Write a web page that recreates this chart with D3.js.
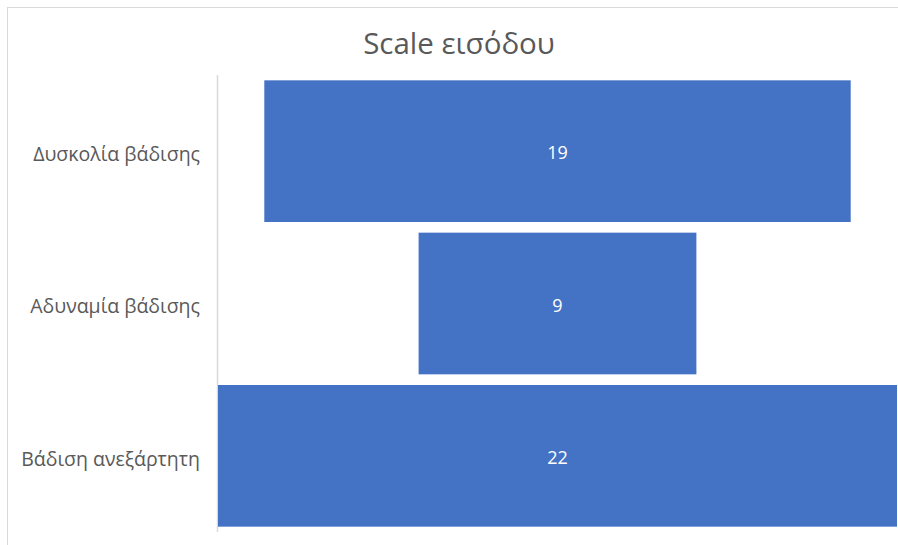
<!DOCTYPE html>
<html><head><meta charset="utf-8">
<script src="https://cdn.jsdelivr.net/npm/d3@7"></script>
<style>html,body{margin:0;padding:0;background:#fff;}svg{display:block;font-family:"Open Sans","Noto Sans",sans-serif;}</style>
</head><body>
<script>
const categories = ["Δυσκολία βάδισης", "Αδυναμία βάδισης", "Βάδιση ανεξάρτητη"];
const values = [19, 9, 22];
const title = "Scale εισόδου";

const W = 898, H = 545;
const svg = d3.select("body").append("svg").attr("width", W).attr("height", H);
svg.append("rect").attr("x", 7.5).attr("y", 7.5).attr("width", W + 10).attr("height", H + 10)
  .attr("fill", "#fff").attr("stroke", "#d9d9d9").attr("stroke-width", 1);

const x0 = 218, x1 = 897;
const maxV = d3.max(values);
const w = d3.scaleLinear().domain([0, maxV]).range([0, x1 - x0]);
const cx = (x0 + x1) / 2;
const y = d3.scaleBand().domain(categories).range([75, 532]).paddingInner(0.07).paddingOuter(0.035);

svg.append("text").attr("x", 459).attr("y", 54).attr("text-anchor", "middle")
  .attr("font-size", 29.5).attr("fill", "#595959").text(title);

svg.append("line").attr("x1", 217.5).attr("x2", 217.5).attr("y1", 75).attr("y2", 532)
  .attr("stroke", "#d9d9d9").attr("stroke-width", 1.5);

const data = categories.map((c, i) => ({c, v: values[i]}));
svg.selectAll("rect.bar").data(data).join("rect").attr("class", "bar")
  .attr("x", d => cx - w(d.v) / 2).attr("width", d => w(d.v))
  .attr("y", d => y(d.c)).attr("height", y.bandwidth()).attr("fill", "#4472c4");

svg.selectAll("text.val").data(data).join("text").attr("class", "val")
  .attr("x", cx).attr("y", d => y(d.c) + y.bandwidth() / 2 + 2).attr("dy", "0.35em")
  .attr("text-anchor", "middle").attr("font-size", 18).attr("fill", "#fff").text(d => d.v);

svg.selectAll("text.cat").data(data).join("text").attr("class", "cat")
  .attr("x", 200).attr("y", d => y(d.c) + y.bandwidth() / 2 + 3).attr("dy", "0.35em")
  .attr("text-anchor", "end").attr("font-size", 19.5).attr("fill", "#595959").text(d => d.c);
</script>
</body></html>
